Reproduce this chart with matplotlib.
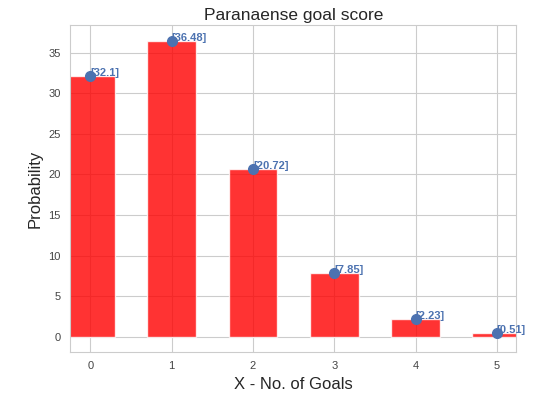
import matplotlib
matplotlib.use("Agg")
import matplotlib.pyplot as plt
import seaborn as sns

goals = [0, 1, 2, 3, 4, 5]
probs = [32.1, 36.48, 20.72, 7.85, 2.23, 0.51]
labels = ["[32.1]", "[36.48]", "[20.72]", "[7.85]", "[2.23]", "[0.51]"]

sns.set_style("whitegrid")
plt.rcParams['font.family'] = ['Liberation Sans', 'DejaVu Sans']

fig = plt.figure(figsize=(5.46, 3.99), dpi=100)
ax = fig.add_axes([0.129, 0.1185, 0.8166, 0.818])
ax.bar(goals, probs, width=0.6, color='red', alpha=0.8, zorder=2)
ax.plot(goals, probs, 'o', color='#4c72b0', markersize=7, zorder=3)
for x, y, t in zip(goals, probs, labels):
    ax.text(x, y, t, color='#4c72b0', fontsize=8, fontweight='bold', zorder=4)
ax.set_xlim(-0.245, 5.24)
ax.set_ylim(-1.85, 38.38)
ax.set_title("Paranaense goal score", fontsize=12.5, pad=3.5)
ax.set_xlabel("X - No. of Goals", fontsize=12)
ax.set_ylabel("Probability", fontsize=12)
ax.tick_params(labelsize=8, colors='#444444')
for s in ax.spines.values():
    s.set_color('#cccccc')
fig.savefig("out.png", dpi=100)
